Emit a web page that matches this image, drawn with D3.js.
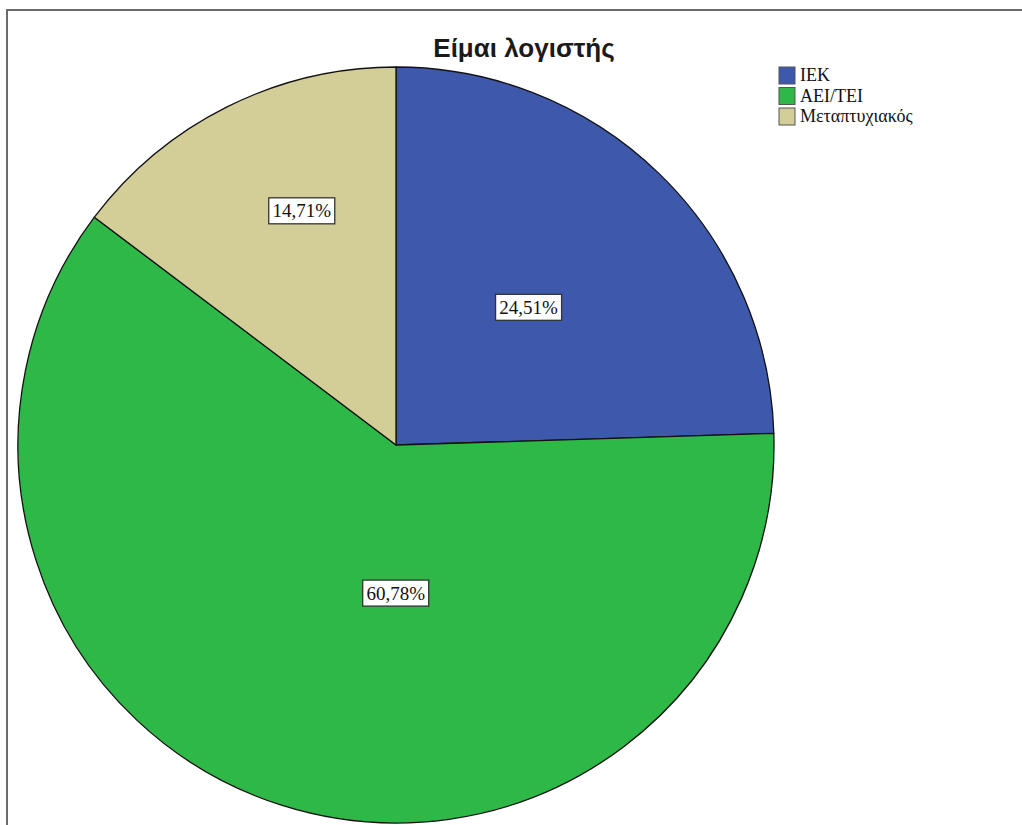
<!DOCTYPE html>
<html>
<head>
<meta charset="utf-8">
<script src="https://cdn.jsdelivr.net/npm/d3@7"></script>
<style>
  body { margin: 0; background: #fff; }
  svg { display: block; }
</style>
</head>
<body>
<div id="chart"></div>
<script>
// data
const categories = ["IEK", "AEI/TEI", "Μεταπτυχιακός"];
const counts = [25, 62, 15];
const colors = ["#3E58AC", "#2EB848", "#D3CE97"];
const title = "Είμαι λογιστής";

const width = 1022;
const height = 825;
const cx = 396;
const cy = 445;
const radius = 378;

// label nudges away from the arc centroid (SPSS places them by hand)
const labelNudge = [[1, -2], [57, -32], [-10, -65]];

const svg = d3.select("#chart")
  .append("svg")
  .attr("width", width)
  .attr("height", height);

// outer frame
svg.append("rect")
  .attr("x", 7)
  .attr("y", 10)
  .attr("width", width + 20)
  .attr("height", height + 20)
  .attr("fill", "none")
  .attr("stroke", "#6b6b6b")
  .attr("stroke-width", 2);

svg.append("text")
  .attr("x", 524)
  .attr("y", 57)
  .attr("text-anchor", "middle")
  .style("font-family", "'Liberation Sans', Arial, sans-serif")
  .style("font-weight", "bold")
  .style("font-size", "26px")
  .attr("fill", "#1a1a1a")
  .text(title);

const data = categories.map((c, i) => ({ key: c, value: counts[i], color: colors[i] }));
const total = d3.sum(counts);

const pie = d3.pie().sort(null).value(d => d.value);
const arc = d3.arc().innerRadius(0).outerRadius(radius);

const g = svg.append("g").attr("transform", "translate(" + cx + "," + cy + ")");

const arcs = pie(data);

g.selectAll("path.slice")
  .data(arcs)
  .enter()
  .append("path")
  .attr("class", "slice")
  .attr("d", arc)
  .attr("fill", d => d.data.color)
  .attr("stroke", "#111")
  .attr("stroke-width", 1.3)
  .attr("stroke-linejoin", "round");

const fmt = v => d3.format(".2f")(v).replace(".", ",") + "%";

const labels = g.selectAll("g.label")
  .data(arcs)
  .enter()
  .append("g")
  .attr("class", "label")
  .attr("transform", (d, i) => {
    const c = arc.centroid(d);
    return "translate(" + (c[0] + labelNudge[i][0]) + "," + (c[1] + labelNudge[i][1]) + ")";
  });

labels.append("rect")
  .attr("x", -33)
  .attr("y", -13)
  .attr("width", 66)
  .attr("height", 26)
  .attr("fill", "#fff")
  .attr("stroke", "#333")
  .attr("stroke-width", 1.3);

labels.append("text")
  .attr("text-anchor", "middle")
  .attr("dy", "0.35em")
  .style("font-family", "'Liberation Serif', 'Times New Roman', serif")
  .style("font-size", "19px")
  .attr("fill", "#111")
  .text(d => fmt(d.data.value / total * 100));

// legend
const legend = svg.append("g").attr("transform", "translate(779,67)");

const item = legend.selectAll("g")
  .data(data)
  .enter()
  .append("g")
  .attr("transform", (d, i) => "translate(0," + i * 20.5 + ")");

item.append("rect")
  .attr("width", 16)
  .attr("height", 17)
  .attr("fill", d => d.color)
  .attr("stroke", "#555")
  .attr("stroke-width", 1);

item.append("text")
  .attr("x", 21)
  .attr("y", 14)
  .style("font-family", "'Liberation Serif', 'Times New Roman', serif")
  .style("font-size", "18px")
  .attr("fill", "#111")
  .text(d => d.key);
</script>
</body>
</html>
